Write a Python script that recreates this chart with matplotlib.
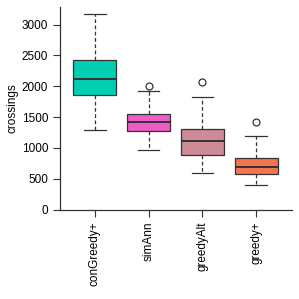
import matplotlib
matplotlib.use("Agg")
import matplotlib.pyplot as plt

methods = ["conGreedy+", "simAnn", "greedyAlt", "greedy+"]
whisker_low = [1297, 965, 592, 397]
q1 = [1865, 1273, 884, 576]
median = [2116, 1419, 1111, 689]
q3 = [2432, 1549, 1305, 843]
whisker_high = [3178, 1921, 1824, 1200]
outliers = [[], [2003], [2076], [1427]]
colors = ["#00CFB4", "#EE5CC8", "#CD8C95", "#F4744F"]

plt.rcParams["font.family"] = ["Liberation Sans", "DejaVu Sans"]

stats = []
for i, name in enumerate(methods):
    stats.append(dict(label=name, whislo=whisker_low[i], q1=q1[i], med=median[i],
                      q3=q3[i], whishi=whisker_high[i], fliers=outliers[i]))

fig = plt.figure(figsize=(2.99, 2.99), dpi=100)
ax = fig.add_axes([0.2007, 0.2993, 0.776, 0.677])

bp = ax.bxp(stats, widths=0.8, patch_artist=True,
            boxprops=dict(edgecolor="#333333", linewidth=0.9),
            medianprops=dict(color="#333333", linewidth=1.4),
            whiskerprops=dict(color="#333333", linestyle=(0, (3, 2)), linewidth=0.9),
            capprops=dict(color="#333333", linewidth=0.9),
            flierprops=dict(marker="o", markerfacecolor="none",
                            markeredgecolor="#333333", markersize=5, markeredgewidth=0.9))
for patch, c in zip(bp["boxes"], colors):
    patch.set_facecolor(c)

ax.set_xlim(0.35, 4.67)
ax.set_ylim(0, 3283)
ax.set_yticks([0, 500, 1000, 1500, 2000, 2500, 3000])
ax.set_xticks([1, 2, 3, 4])
ax.set_xticklabels(methods, rotation=90, fontsize=8.5)
ax.tick_params(axis="y", labelsize=8.5, length=5, color="#333333")
ax.tick_params(axis="x", length=5, color="#333333")
ax.set_ylabel("crossings", fontsize=8.5, labelpad=2)
ax.spines["top"].set_visible(False)
ax.spines["right"].set_visible(False)
for s in ["left", "bottom"]:
    ax.spines[s].set_color("#333333")
    ax.spines[s].set_linewidth(0.9)

fig.savefig("out.png", dpi=100)
